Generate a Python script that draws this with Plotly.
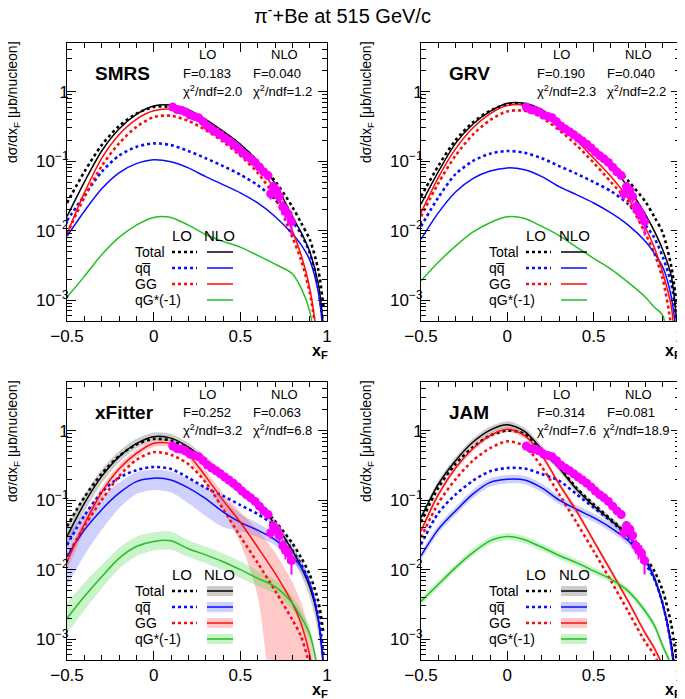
import numpy as np
import plotly.graph_objects as go

# ---------------- data ----------------
X_GRID = [-0.5, -0.4, -0.3, -0.2, -0.1, 0.0, 0.1, 0.2, 0.3, 0.4, 0.5, 0.6, 0.7, 0.8, 0.85, 0.9, 0.95, 0.98]

# SMRS
SMRS_NLO_TOT = [0.016, 0.05, 0.14, 0.29, 0.47, 0.62, 0.64, 0.55, 0.40, 0.27, 0.175, 0.10, 0.048, 0.016, 0.0095, 0.005, 0.0017, 0.0004]
SMRS_LO_TOT = [0.025, 0.07, 0.17, 0.32, 0.48, 0.60, 0.60, 0.50, 0.37, 0.26, 0.17, 0.10, 0.052, 0.022, 0.013, 0.0075, 0.0027, 0.0008]
SMRS_NLO_GG = [0.009, 0.035, 0.11, 0.24, 0.40, 0.53, 0.56, 0.48, 0.35, 0.24, 0.15, 0.085, 0.038, 0.010, 0.0045, 0.0015, 0.0002, 0.00003]
SMRS_LO_GG = [0.009, 0.03, 0.085, 0.18, 0.31, 0.43, 0.45, 0.38, 0.28, 0.19, 0.12, 0.068, 0.030, 0.008, 0.0038, 0.0013, 0.0002, 0.00003]
SMRS_LO_QQ = [0.014, 0.032, 0.07, 0.12, 0.16, 0.18, 0.17, 0.14, 0.11, 0.085, 0.064, 0.045, 0.028, 0.0135, 0.009, 0.0048, 0.0015, 0.0004]
SMRS_NLO_QQ = [0.0083, 0.019, 0.04, 0.068, 0.092, 0.105, 0.098, 0.08, 0.06, 0.046, 0.035, 0.025, 0.016, 0.009, 0.0063, 0.0038, 0.0013, 0.0003]
SMRS_NLO_QG = [0.0011, 0.0022, 0.0045, 0.008, 0.012, 0.0155, 0.0155, 0.012, 0.0088, 0.007, 0.0058, 0.0044, 0.0033, 0.0024, 0.0015, 0.0007, 0.0001, 0.00002]

# GRV
GRV_NLO_TOT = [0.024, 0.07, 0.18, 0.34, 0.52, 0.68, 0.68, 0.55, 0.37, 0.23, 0.14, 0.085, 0.042, 0.017, 0.010, 0.0053, 0.0022, 0.0005]
GRV_LO_TOT = [0.031, 0.085, 0.2, 0.36, 0.53, 0.66, 0.65, 0.52, 0.36, 0.23, 0.145, 0.095, 0.052, 0.026, 0.016, 0.0093, 0.003, 0.0009]
GRV_NLO_GG = [0.018, 0.058, 0.15, 0.3, 0.48, 0.63, 0.64, 0.51, 0.33, 0.2, 0.11, 0.06, 0.029, 0.011, 0.0058, 0.0025, 0.0008, 0.0001]
GRV_LO_GG = [0.016, 0.048, 0.12, 0.24, 0.39, 0.52, 0.53, 0.42, 0.28, 0.17, 0.095, 0.05, 0.026, 0.009, 0.0048, 0.002, 0.0004, 0.00005]
GRV_LO_QQ = [0.0115, 0.03, 0.065, 0.1, 0.128, 0.14, 0.132, 0.11, 0.085, 0.066, 0.05, 0.037, 0.024, 0.012, 0.008, 0.0042, 0.0017, 0.0005]
GRV_NLO_QQ = [0.0075, 0.018, 0.036, 0.056, 0.072, 0.08, 0.075, 0.06, 0.043, 0.033, 0.025, 0.018, 0.012, 0.007, 0.0048, 0.003, 0.0011, 0.0003]
GRV_NLO_QG = [0.0019, 0.0035, 0.006, 0.0095, 0.013, 0.0158, 0.015, 0.0115, 0.0085, 0.0058, 0.004, 0.0028, 0.0018, 0.0011, 0.0008, 0.0006, 0.0001, 0.00002]

# xFitter
XF_NLO_TOT = [0.03, 0.09, 0.22, 0.42, 0.65, 0.82, 0.78, 0.58, 0.37, 0.22, 0.14, 0.088, 0.045, 0.019, 0.011, 0.0057, 0.0019, 0.0004]
XF_LO_TOT = [0.042, 0.11, 0.24, 0.43, 0.63, 0.76, 0.72, 0.55, 0.36, 0.22, 0.14, 0.09, 0.05, 0.024, 0.015, 0.0085, 0.0035, 0.0012]
XF_NLO_GG = [0.013, 0.045, 0.13, 0.28, 0.47, 0.66, 0.65, 0.45, 0.22, 0.10, 0.048, 0.021, 0.0089, 0.0033, 0.0017, 0.0006, 0.00008, 0.00001]
XF_LO_GG = [0.0155, 0.042, 0.1, 0.22, 0.38, 0.49, 0.45, 0.33, 0.18, 0.075, 0.03, 0.0125, 0.005, 0.0019, 0.0011, 0.0004, 0.00005, 0.00001]
XF_LO_QQ = [0.0226, 0.06, 0.13, 0.21, 0.27, 0.30, 0.28, 0.21, 0.15, 0.115, 0.085, 0.063, 0.042, 0.019, 0.012, 0.0063, 0.0022, 0.0006]
XF_NLO_QQ = [0.0155, 0.037, 0.073, 0.126, 0.185, 0.207, 0.195, 0.15, 0.105, 0.068, 0.048, 0.037, 0.027, 0.0155, 0.011, 0.0063, 0.0019, 0.0004]
XF_NLO_QG = [0.002, 0.0041, 0.0079, 0.0145, 0.0215, 0.0255, 0.026, 0.02, 0.0163, 0.013, 0.01, 0.0075, 0.0057, 0.0033, 0.0021, 0.0012, 0.0003, 0.00005]
# xFitter NLO uncertainty bands, half widths in decades (up / down)
XF_TOT_UP = [0.14, 0.12, 0.1, 0.08, 0.07, 0.06, 0.06, 0.06, 0.06, 0.07, 0.07, 0.07, 0.07, 0.08, 0.09, 0.1, 0.12, 0.12]
XF_TOT_DN = [0.14, 0.12, 0.1, 0.08, 0.07, 0.06, 0.06, 0.06, 0.06, 0.07, 0.07, 0.07, 0.08, 0.1, 0.12, 0.15, 0.2, 0.2]
XF_QQ_UP = [0.29, 0.24, 0.19, 0.15, 0.13, 0.12, 0.12, 0.13, 0.16, 0.2, 0.12, 0.1, 0.08, 0.08, 0.08, 0.08, 0.1, 0.1]
XF_QQ_DN = [0.43, 0.36, 0.29, 0.22, 0.18, 0.17, 0.18, 0.22, 0.25, 0.22, 0.13, 0.1, 0.08, 0.08, 0.08, 0.08, 0.1, 0.1]
XF_GG_UP = [0.1, 0.08, 0.07, 0.06, 0.05, 0.05, 0.05, 0.06, 0.08, 0.1, 0.15, 0.25, 0.3, 0.3, 0.3, 0.3, 0.3, 0.3]
XF_GG_DN = [0.12, 0.1, 0.08, 0.06, 0.05, 0.05, 0.05, 0.06, 0.1, 0.15, 0.3, 0.7, 2.0, 2.0, 2.0, 2.0, 2.0, 2.0]
XF_QG_UP = [0.22, 0.2, 0.17, 0.15, 0.14, 0.13, 0.13, 0.12, 0.12, 0.12, 0.12, 0.11, 0.1, 0.1, 0.1, 0.1, 0.1, 0.1]
XF_QG_DN = [0.22, 0.2, 0.17, 0.15, 0.14, 0.13, 0.13, 0.12, 0.12, 0.12, 0.12, 0.11, 0.1, 0.1, 0.1, 0.1, 0.1, 0.1]

# JAM
JAM_NLO_TOT = [0.056, 0.17, 0.37, 0.68, 1.02, 1.22, 0.98, 0.54, 0.29, 0.144, 0.083, 0.051, 0.031, 0.014, 0.0077, 0.0032, 0.00085, 0.0002]
JAM_LO_TOT = [0.048, 0.15, 0.33, 0.575, 0.85, 1.0, 0.9, 0.51, 0.30, 0.15, 0.087, 0.053, 0.031, 0.015, 0.0097, 0.005, 0.0016, 0.0005]
JAM_NLO_GG = [0.036, 0.12, 0.29, 0.55, 0.85, 1.05, 0.85, 0.44, 0.17, 0.07, 0.026, 0.0096, 0.0035, 0.0012, 0.00075, 0.0004, 0.00005, 0.00001]
JAM_LO_GG = [0.029, 0.09, 0.2, 0.37, 0.56, 0.70, 0.6, 0.3, 0.122, 0.048, 0.0185, 0.0069, 0.0025, 0.0009, 0.0006, 0.0003, 0.00003, 0.00001]
JAM_LO_QQ = [0.023, 0.065, 0.12, 0.19, 0.26, 0.29, 0.285, 0.237, 0.19, 0.122, 0.078, 0.05, 0.029, 0.012, 0.0075, 0.0032, 0.0008, 0.0002]
JAM_NLO_QQ = [0.0158, 0.038, 0.07, 0.122, 0.18, 0.2, 0.195, 0.15, 0.1, 0.074, 0.056, 0.04, 0.026, 0.0134, 0.0077, 0.0032, 0.00075, 0.0001]
JAM_NLO_QG = [0.0035, 0.0061, 0.0107, 0.0176, 0.026, 0.03, 0.027, 0.021, 0.016, 0.0126, 0.0096, 0.0073, 0.0049, 0.0025, 0.0016, 0.0008, 0.0004, 0.0001]
JAM_TOT_W = [0.05, 0.05, 0.05, 0.05, 0.05, 0.05, 0.05, 0.05, 0.05, 0.05, 0.05, 0.05, 0.05, 0.05, 0.05, 0.05, 0.05, 0.05]
JAM_QQ_W = [0.06, 0.06, 0.06, 0.06, 0.06, 0.06, 0.06, 0.06, 0.06, 0.06, 0.06, 0.06, 0.06, 0.06, 0.06, 0.06, 0.06, 0.06]
JAM_GG_W = [0.04, 0.04, 0.04, 0.04, 0.04, 0.04, 0.04, 0.04, 0.04, 0.04, 0.04, 0.04, 0.04, 0.04, 0.04, 0.04, 0.04, 0.04]
JAM_QG_W = [0.05, 0.05, 0.05, 0.05, 0.05, 0.05, 0.05, 0.05, 0.05, 0.05, 0.05, 0.05, 0.05, 0.05, 0.05, 0.05, 0.05, 0.05]

# measured points (pi- Be 515 GeV/c)
DATA_X = [0.11, 0.135, 0.16, 0.185, 0.21, 0.235, 0.26, 0.285, 0.31, 0.335, 0.36, 0.385, 0.41, 0.435, 0.46,
          0.485, 0.51, 0.535, 0.56, 0.585, 0.61, 0.635, 0.66, 0.675, 0.69, 0.71, 0.725, 0.745, 0.76, 0.775, 0.795]
DATA_Y = [0.60, 0.55, 0.54, 0.51, 0.46, 0.44, 0.42, 0.37, 0.32, 0.29, 0.265, 0.24, 0.215, 0.195, 0.175,
          0.155, 0.135, 0.12, 0.108, 0.096, 0.082, 0.07, 0.062, 0.034, 0.043, 0.038, 0.031, 0.022, 0.019, 0.0175, 0.0135]
DATA_ERR = [0.02, 0.02, 0.02, 0.02, 0.015, 0.015, 0.015, 0.012, 0.01, 0.01, 0.009, 0.008, 0.007, 0.007, 0.006,
            0.006, 0.005, 0.005, 0.004, 0.004, 0.004, 0.004, 0.004, 0.006, 0.007, 0.006, 0.006, 0.005, 0.005, 0.005, 0.005]

PANEL_NAMES = ["SMRS", "GRV", "xFitter", "JAM"]
F_LO = ["0.183", "0.190", "0.252", "0.314"]
F_NLO = ["0.040", "0.040", "0.063", "0.081"]
CHI_LO = ["2.0", "2.3", "3.2", "7.6"]
CHI_NLO = ["1.2", "2.2", "6.8", "18.9"]
LEGEND_LABELS = ["Total", "qq\u0305", "GG", "qG*(-1)"]
X_TICKS = [-0.5, 0, 0.5, 1]
X_TICK_TEXT = ["\u22120.5", "0", "0.5", "1"]
Y_TICKS = [1e-3, 1e-2, 1e-1, 1]
Y_TICK_TEXT = ["10<sup>\u22123</sup>", "10<sup>\u22122</sup>", "10<sup>\u22121</sup>", "1"]

# ---------------- styling ----------------
PAGE_W, PAGE_H = 685, 699
OFF = 8                      # default page margin of the html body
W, H = PAGE_W - OFF, PAGE_H - OFF
FONT = "Liberation Sans, Arial, Helvetica, sans-serif"
BLACK, BLUE, RED, GREEN, MAG = "#000000", "#0a0aff", "#ff0a0a", "#22c022", "#ff00ff"
BAND = {BLACK: "rgba(0,0,0,0.2)", BLUE: "rgba(40,40,255,0.22)", RED: "rgba(255,40,40,0.25)",
        GREEN: "rgba(40,210,40,0.25)"}
# plot frames in screen pixels (left, top, right, bottom)
FRAMES = [(67, 43, 327, 321), (421, 43, 680, 321), (67, 382, 327, 660), (421, 382, 680, 660)]


def fx(p):
    return (p - OFF) / W


def fy(p):
    return 1 - (p - OFF) / H


def note(text, x, y, size, xanchor="center", angle=0):
    return dict(x=fx(x), y=fy(y), xref="paper", yref="paper", xanchor=xanchor, yanchor="middle",
                text=text, showarrow=False, textangle=angle, font=dict(size=size, family=FONT, color="black"))


panels = [
    dict(tot=(SMRS_LO_TOT, SMRS_NLO_TOT), qq=(SMRS_LO_QQ, SMRS_NLO_QQ), gg=(SMRS_LO_GG, SMRS_NLO_GG), qg=SMRS_NLO_QG, bands=None),
    dict(tot=(GRV_LO_TOT, GRV_NLO_TOT), qq=(GRV_LO_QQ, GRV_NLO_QQ), gg=(GRV_LO_GG, GRV_NLO_GG), qg=GRV_NLO_QG, bands=None),
    dict(tot=(XF_LO_TOT, XF_NLO_TOT), qq=(XF_LO_QQ, XF_NLO_QQ), gg=(XF_LO_GG, XF_NLO_GG), qg=XF_NLO_QG,
         bands=[(XF_TOT_UP, XF_TOT_DN), (XF_QQ_UP, XF_QQ_DN), (XF_GG_UP, XF_GG_DN), (XF_QG_UP, XF_QG_DN)]),
    dict(tot=(JAM_LO_TOT, JAM_NLO_TOT), qq=(JAM_LO_QQ, JAM_NLO_QQ), gg=(JAM_LO_GG, JAM_NLO_GG), qg=JAM_NLO_QG,
         bands=[(JAM_TOT_W, JAM_TOT_W), (JAM_QQ_W, JAM_QQ_W), (JAM_GG_W, JAM_GG_W), (JAM_QG_W, JAM_QG_W)]),
]

fig = go.Figure()
layout = dict(width=W, height=H, margin=dict(l=0, r=0, t=0, b=0, autoexpand=False), paper_bgcolor="white",
              plot_bgcolor="white", showlegend=False, font=dict(family=FONT, color="black"))
annotations = []
shapes = []

minor_y = [k * 10.0 ** e for e in range(-4, 1) for k in range(2, 10)]
minor_x = [-0.4, -0.3, -0.2, -0.1, 0.1, 0.2, 0.3, 0.4, 0.6, 0.7, 0.8, 0.9]

for i, (p, (L, T, R, B)) in enumerate(zip(panels, FRAMES)):
    sfx = "" if i == 0 else str(i + 1)
    xa, ya = "x" + sfx, "y" + sfx
    layout["xaxis" + sfx] = dict(
        domain=[fx(L), fx(R)], anchor=ya, range=[-0.5, 1.0], showgrid=False, zeroline=False,
        showline=True, linecolor="black", linewidth=1, mirror="ticks", ticks="inside", ticklen=9,
        tickcolor="black", tickvals=X_TICKS, ticktext=X_TICK_TEXT, tickfont=dict(size=17, family=FONT),
        automargin=False,
        minor=dict(tickvals=minor_x, ticks="inside", ticklen=5, tickcolor="black", showgrid=False))
    layout["yaxis" + sfx] = dict(
        domain=[fy(B), fy(T)], anchor=xa, type="log", range=[-3.3, 0.7], showgrid=False, zeroline=False,
        showline=True, linecolor="black", linewidth=1, mirror="ticks", ticks="inside", ticklen=9,
        tickcolor="black", tickvals=Y_TICKS, ticktext=Y_TICK_TEXT, tickfont=dict(size=17, family=FONT),
        automargin=False, ticklabelstandoff=-6,
        minor=dict(tickvals=minor_y, ticks="inside", ticklen=5, tickcolor="black", showgrid=False))

    colors = [BLACK, BLUE, RED, GREEN]
    nlo = [p["tot"][1], p["qq"][1], p["gg"][1], p["qg"]]
    lo = [p["tot"][0], p["qq"][0], p["gg"][0]]

    # uncertainty bands
    if p["bands"] is not None:
        for c, cen, (up, dn) in zip(colors, nlo, p["bands"]):
            cen = np.array(cen)
            hi = cen * 10 ** np.array(up)
            low = cen * 10 ** (-np.array(dn))
            fig.add_trace(go.Scatter(x=X_GRID, y=hi, mode="lines", line=dict(width=0, shape="spline", smoothing=0.8),
                                     xaxis=xa, yaxis=ya, hoverinfo="skip"))
            fig.add_trace(go.Scatter(x=X_GRID, y=low, mode="lines", line=dict(width=0, shape="spline", smoothing=0.8),
                                     fill="tonexty", fillcolor=BAND[c], xaxis=xa, yaxis=ya, hoverinfo="skip"))
    # LO dotted
    for c, v in zip(colors[:3], lo):
        fig.add_trace(go.Scatter(x=X_GRID, y=v, mode="lines", xaxis=xa, yaxis=ya,
                                 line=dict(color=c, width=2.6, dash="dot", shape="spline", smoothing=0.8)))
    # NLO solid
    for c, v in zip(colors, nlo):
        fig.add_trace(go.Scatter(x=X_GRID, y=v, mode="lines", xaxis=xa, yaxis=ya,
                                 line=dict(color=c, width=1.5, shape="spline", smoothing=0.8)))
    # data
    fig.add_trace(go.Scatter(x=DATA_X, y=DATA_Y, mode="markers", xaxis=xa, yaxis=ya,
                             marker=dict(color=MAG, size=9, line=dict(width=0)),
                             error_y=dict(type="data", array=DATA_ERR, color=MAG, thickness=2, width=0)))

    # panel texts
    annotations.append(note("<b>%s</b>" % PANEL_NAMES[i], L + 26, T + 30, 19, xanchor="left"))
    for txt, cx, cy in [("LO", L + 140, T + 12), ("NLO", L + 217, T + 12),
                        ("F=" + F_LO[i], L + 140, T + 30), ("F=" + F_NLO[i], L + 210, T + 30),
                        ("\u03c7<sup>2</sup>/ndf=" + CHI_LO[i], L + 145, T + 48),
                        ("\u03c7<sup>2</sup>/ndf=" + CHI_NLO[i], L + 215, T + 48)]:
        annotations.append(note(txt, cx, cy, 13))
    # axis titles
    annotations.append(note("d\u03c3/dx<sub>F</sub> [\u03bcb/nucleon]", L - 54, T + 59, 14, angle=-90))
    annotations.append(note("<b>x<sub>F</sub></b>", R - 7, B + 30, 16))

    # in-plot legend
    annotations.append(note("LO", L + 115, T + 192, 15))
    annotations.append(note("NLO", L + 153, T + 192, 15))
    for r, (lab, c) in enumerate(zip(LEGEND_LABELS, colors)):
        yy = T + 209 + 16 * r
        annotations.append(note(lab, L + 66, yy, 14, xanchor="left"))
        if r < 3:
            shapes.append(dict(type="line", xref="paper", yref="paper", x0=fx(L + 105), x1=fx(L + 130),
                               y0=fy(yy), y1=fy(yy), line=dict(color=c, width=2.6, dash="dot")))
        if p["bands"] is not None:
            shapes.append(dict(type="rect", xref="paper", yref="paper", x0=fx(L + 140), x1=fx(L + 166),
                               y0=fy(yy - 5), y1=fy(yy + 5), fillcolor=BAND[c], line=dict(width=0)))
        shapes.append(dict(type="line", xref="paper", yref="paper", x0=fx(L + 140), x1=fx(L + 166),
                           y0=fy(yy), y1=fy(yy), line=dict(color=c, width=1.5)))

annotations.append(note("\u03c0<sup>-</sup>+Be at 515 GeV/c", PAGE_W / 2, 15, 20))

layout["annotations"] = annotations
layout["shapes"] = shapes
fig.update_layout(**layout)
fig.write_html("out.html")
